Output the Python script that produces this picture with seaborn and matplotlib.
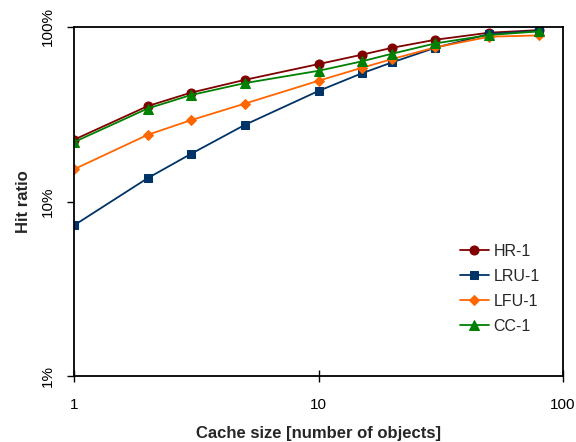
import matplotlib
matplotlib.use("Agg")
import matplotlib.pyplot as plt
import matplotlib.ticker as mticker
import numpy as np
import pandas as pd
import seaborn as sns

# Cache sizes (number of objects) and hit ratios in percent per policy
cache_sizes = [1, 2, 3, 5, 10, 15, 20, 30, 50, 80]
hr_1 = [22.6, 35.2, 42.0, 49.8, 61.3, 69.3, 76.0, 84.5, 92.8, 96.0]
lru_1 = [7.3, 13.6, 18.7, 27.5, 43.0, 54.2, 62.7, 76.0, 91.2, 95.2]
lfu_1 = [15.3, 24.1, 29.2, 36.4, 49.2, 58.3, 65.5, 76.4, 88.0, 89.5]
cc_1 = [21.9, 34.1, 40.7, 47.7, 56.1, 63.5, 70.3, 80.5, 90.0, 94.4]

policies = ["HR-1", "LRU-1", "LFU-1", "CC-1"]
series = [hr_1, lru_1, lfu_1, cc_1]
colors = {"HR-1": "#800000", "LRU-1": "#003366", "LFU-1": "#FF6600", "CC-1": "#008000"}
markers = {"HR-1": "o", "LRU-1": "s", "LFU-1": "D", "CC-1": "^"}
sizes = {"HR-1": 6.5, "LRU-1": 6.0, "LFU-1": 5.0, "CC-1": 7.0}

df = pd.DataFrame(
    [(p, x, y) for p, ys in zip(policies, series) for x, y in zip(cache_sizes, ys)],
    columns=["policy", "cache", "hit"],
)

sns.set_style("white", {"xtick.bottom": True, "ytick.left": True})
plt.rcParams["font.family"] = ["Liberation Sans", "DejaVu Sans"]

fig = plt.figure(figsize=(5.76, 4.42), dpi=100)
ax = fig.add_axes([74 / 576, 1 - 376 / 442, (563 - 74) / 576, (376 - 27) / 442])

for p in policies:
    sub = df[df["policy"] == p]
    sns.lineplot(
        data=sub, x="cache", y="hit", ax=ax, color=colors[p], marker=markers[p],
        markersize=sizes[p], markeredgecolor=colors[p], linewidth=1.3,
        label=p, estimator=None, sort=False,
    )

ax.set_xscale("log")
ax.set_yscale("log")
ax.set_xlim(1, 100)
ax.set_ylim(1, 100)

ax.xaxis.set_major_locator(mticker.FixedLocator([1, 10, 100]))
ax.xaxis.set_major_formatter(mticker.FixedFormatter(["1", "10", "100"]))
ax.xaxis.set_minor_locator(mticker.NullLocator())
ax.yaxis.set_major_locator(mticker.FixedLocator([1, 10, 100]))
ax.yaxis.set_major_formatter(mticker.FixedFormatter(["1%", "10%", "100%"]))
ax.yaxis.set_minor_locator(mticker.NullLocator())

ax.tick_params(axis="x", which="major", bottom=True, direction="inout", length=8,
               width=1, labelsize=11, pad=12, colors="black")
ax.tick_params(axis="y", which="major", left=True, direction="out", length=5,
               width=1, labelsize=11, pad=9, colors="black")
for lbl in ax.get_yticklabels():
    lbl.set_rotation(90)
    lbl.set_va("center")

for side in ["left", "bottom", "top", "right"]:
    ax.spines[side].set_visible(True)
    ax.spines[side].set_color("black")
    ax.spines[side].set_linewidth(1.3)

ax.set_xlabel("Cache size [number of objects]", fontsize=12, fontweight="bold", labelpad=10)
ax.set_ylabel("Hit ratio", fontsize=12, fontweight="bold", labelpad=7)

ax.legend(
    loc="upper left", bbox_to_anchor=(0.76, 0.42), frameon=False, fontsize=11.5,
    handlelength=1.8, handletextpad=0.3, labelspacing=0.62,
)

fig.savefig("out.png", dpi=100)
